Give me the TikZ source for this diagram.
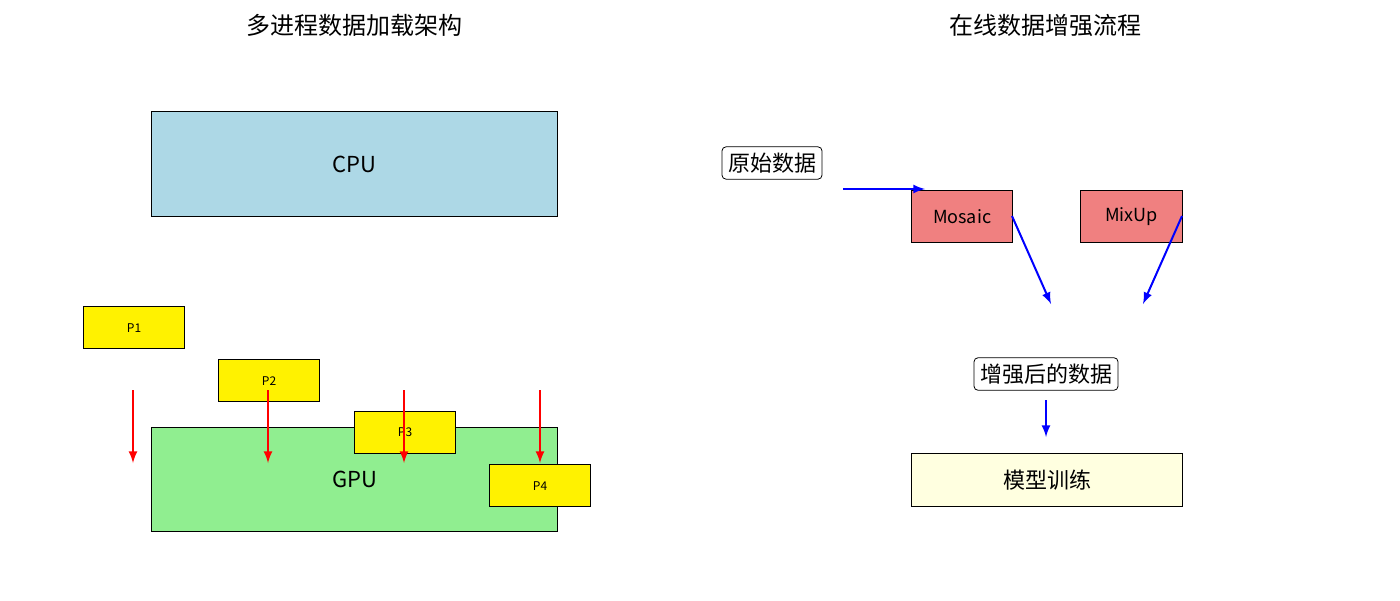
\documentclass[tikz,border=0pt]{standalone}
\usepackage{fontspec}
\setmainfont{Noto Sans CJK SC}
\begin{document}
\begin{tikzpicture}[x=0.5pt,y=-0.5pt,
 box/.style={draw=black,line width=0.6pt,anchor=north west,inner sep=0pt},
 lbl/.style={draw=black,rounded corners=2pt,fill=white,inner sep=3pt,font=\fontsize{11}{13}\selectfont},
 ra/.style={draw=red,line width=1pt,-{latex}},
 ba/.style={draw=blue,line width=1pt,-{latex}}]
\path[use as bounding box] (0,0) rectangle (1400,600);
\node[font=\fontsize{12}{14}\selectfont] (t1) at (354,25) {多进程数据加载架构};
\node[font=\fontsize{12}{14}\selectfont] (t2) at (1045,25) {在线数据增强流程};
\node[box,fill={rgb,255:red,173;green,216;blue,230},minimum width=203pt,minimum height=52.5pt] (cpu) at (151,111) {};
\node[font=\fontsize{11}{13}\selectfont] at (cpu.center) {CPU};
\node[box,fill={rgb,255:red,144;green,238;blue,144},minimum width=203pt,minimum height=52pt] (gpu) at (151,427) {};
\node[font=\fontsize{11}{13}\selectfont] at (gpu.center) {GPU};
\foreach \n/\x/\y in {1/83/306,2/218/359,3/354/411,4/489/464}{
 \node[box,fill=yellow,minimum width=50.5pt,minimum height=21pt,font=\fontsize{6}{7}\selectfont] (p\n) at (\x,\y) {};
 \node[font=\fontsize{6}{7}\selectfont] at (p\n.center) {P\n};
}
\foreach \i/\x in {1/133,2/268,3/404,4/540}{
 \coordinate (a\i) at (\x,390); \coordinate (b\i) at (\x,463);
 \draw[ra] (a\i) -- (b\i);
}
\node[lbl] (raw) at (772,163) {原始数据};
\node[box,fill={rgb,255:red,240;green,128;blue,128},minimum width=50.5pt,minimum height=26pt] (mo) at (911,190) {};
\node[font=\fontsize{9}{11}\selectfont] at (mo.center) {Mosaic};
\node[box,fill={rgb,255:red,240;green,128;blue,128},minimum width=51pt,minimum height=26pt] (mu) at (1080,190) {};
\node[font=\fontsize{9}{11}\selectfont] at (mu.center) {MixUp};
\node[lbl] (aug) at (1046,374) {增强后的数据};
\node[box,fill={rgb,255:red,255;green,255;blue,224},minimum width=135.5pt,minimum height=26.5pt] (tr) at (911,453) {};
\node[font=\fontsize{11}{13}\selectfont] at (tr.center) {模型训练};
\coordinate (r1) at (843,189); \coordinate (r2) at (925,189);
\draw[ba] (r1) -- (r2);
\coordinate (m1) at (1012,216); \coordinate (m2) at (1051,304);
\draw[ba] (m1) -- (m2);
\coordinate (x1) at (1182,216); \coordinate (x2) at (1143,304);
\draw[ba] (x1) -- (x2);
\coordinate (g1) at (1046,400); \coordinate (g2) at (1046,437);
\draw[ba] (g1) -- (g2);
\end{tikzpicture}
\end{document}
